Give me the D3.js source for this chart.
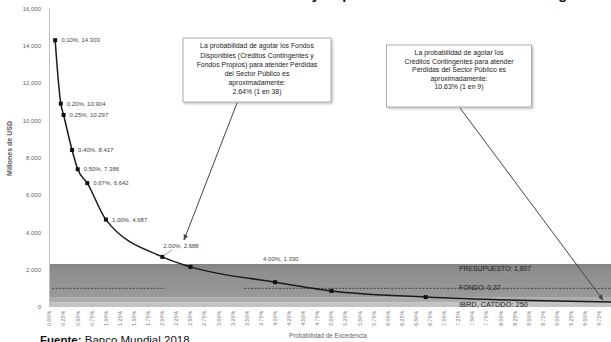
<!DOCTYPE html>
<html>
<head>
<meta charset="utf-8">
<script src="https://cdn.jsdelivr.net/npm/d3@7"></script>
<style>
  html, body { margin: 0; padding: 0; background: #fff; }
  svg { display: block; font-family: "Liberation Sans", Arial, sans-serif; }
</style>
</head>
<body>
<svg id="chart" width="611" height="342"></svg>
<script>
// Curva de excedencia de pérdidas (probabilidad anual en %, pérdida en millones de USD)
const probabilities = [0.10, 0.20, 0.25, 0.40, 0.50, 0.67, 1.00, 2.00, 2.50, 4.00, 5.00, 6.67, 10.00];
const losses        = [14303, 10904, 10297, 8417, 7386, 6642, 4687, 2688, 2150, 1330, 860, 530, 270];
const pointLabels   = ["0.10%, 14.303", "0.20%, 10.904", "0.25%, 10.297", "0.40%, 8.417",
                       "0.50%, 7.386", "0.67%, 6.642", "1.00%, 4.687", "2.00%, 2.688",
                       "", "4.00%, 1.330", "", "", ""];

// Capas de financiamiento apiladas (millones de USD)
const layerNames  = ["IBRD, CATDDO", "FONDO", "PRESUPUESTO"];
const layerValues = [250, 250, 1807];
const layerLabels = ["IBRD, CATDDO: 250", "FONDO: 0,37 . .", "PRESUPUESTO: 1,807"];
const referenceLevel = 1000;                      // línea discontinua
const referenceSpans = [[0.05, 2.05], [3.45, 10.2]];

// Ejes
const yTicks = [0, 2000, 4000, 6000, 8000, 10000, 12000, 14000, 16000];
const xTicks = d3.range(0, 41).map(i => i * 0.25);

// Anotaciones
const note1 = ["La probabilidad de agotar los Fondos",
               "Disponibles (Créditos Contingentes y",
               "Fondos Propios) para atender Pérdidas",
               "del Sector Público es",
               "aproximadamente:",
               "2.64% (1 en 38)"];
const note2 = ["La probabilidad de agotar los",
               "Créditos Contingentes para atender",
               "Pérdidas del Sector Público es",
               "aproximadamente:",
               "10.63% (1 en 9)"];

const svg = d3.select("#chart");
const x = d3.scaleLinear().domain([0, 10]).range([49.5, 613.5]);
const y = d3.scaleLinear().domain([0, 16000]).range([307, 8.6]);

const defs = svg.append("defs");
defs.append("marker").attr("id", "arrow")
  .attr("viewBox", "0 0 10 10").attr("refX", 9).attr("refY", 5)
  .attr("markerWidth", 6).attr("markerHeight", 6).attr("orient", "auto-start-reverse")
  .append("path").attr("d", "M0,1 L10,5 L0,9 z").attr("fill", "#444");
const grad = defs.append("linearGradient").attr("id", "bandTop")
  .attr("x1", 0).attr("x2", 0).attr("y1", 0).attr("y2", 1);
grad.append("stop").attr("offset", "0%").attr("stop-color", "#838383");
grad.append("stop").attr("offset", "25%").attr("stop-color", "#8f8f8f");
grad.append("stop").attr("offset", "100%").attr("stop-color", "#9a9a9a");
const shadow = defs.append("filter").attr("id", "shadow")
  .attr("x", "-10%").attr("y", "-10%").attr("width", "130%").attr("height", "130%");
shadow.append("feDropShadow").attr("dx", 1.5).attr("dy", 1.5)
  .attr("stdDeviation", 1).attr("flood-color", "#000").attr("flood-opacity", 0.25);

// Título (su parte superior queda fuera del lienzo)
svg.append("text")
  .attr("x", 576).attr("y", -1.2)
  .attr("text-anchor", "end")
  .attr("font-size", 14.5).attr("font-weight", "bold").attr("fill", "#111")
  .text("Curva de Excedencia de Pérdidas y Capas de Financiamiento del Riesgo");

// Bandas de financiamiento
const stacked = [];
let acc = 0;
layerValues.forEach((v, i) => { stacked.push({ name: layerNames[i], y0: acc, y1: acc + v, label: layerLabels[i] }); acc += v; });
const bandFill = ["#c3c3c3", "#acacac", "url(#bandTop)"];
svg.append("g").selectAll("rect").data(stacked).join("rect")
  .attr("x", x(0)).attr("width", 611 - x(0))
  .attr("y", d => y(d.y1)).attr("height", d => y(d.y0) - y(d.y1))
  .attr("fill", (d, i) => bandFill[i]);

// Línea discontinua de referencia
svg.append("g").selectAll("line").data(referenceSpans).join("line")
  .attr("x1", d => x(d[0])).attr("x2", d => x(d[1]))
  .attr("y1", y(referenceLevel)).attr("y2", y(referenceLevel))
  .attr("stroke", "#3a3a3a").attr("stroke-width", 0.9).attr("stroke-dasharray", "2,1.5");

// Etiquetas de las bandas
const bandLabelY = [y(150), y(referenceLevel) - 1, y(2307) + 4.5];
svg.append("g").selectAll("text").data(stacked).join("text")
  .attr("x", 459).attr("y", (d, i) => bandLabelY[i])
  .attr("dy", "0.35em")
  .attr("font-size", (d, i) => i === 0 ? 7.4 : 6.8)
  .attr("fill", "#222")
  .text(d => d.label);

// Eje Y
svg.append("line").attr("x1", x(0)).attr("x2", x(0))
  .attr("y1", y(16000)).attr("y2", y(0)).attr("stroke", "#bdbdbd").attr("stroke-width", 1);
svg.append("g").selectAll("text").data(yTicks).join("text")
  .attr("x", 41).attr("y", d => y(d)).attr("dy", "0.35em")
  .attr("text-anchor", "end").attr("font-size", 6).attr("fill", "#666")
  .text(d => d3.format(",")(d));
svg.append("text")
  .attr("transform", `translate(12,${y(8500)}) rotate(-90)`)
  .attr("text-anchor", "middle").attr("font-size", 7).attr("font-weight", "bold").attr("fill", "#555")
  .text("Millones de USD");

// Eje X (etiquetas verticales)
svg.append("g").selectAll("text").data(xTicks).join("text")
  .attr("transform", d => `translate(${x(d) + 1.8},311) rotate(-90)`)
  .attr("text-anchor", "end").attr("font-size", 5.2).attr("fill", "#777")
  .text(d => d3.format(".2f")(d) + "%");
svg.append("text")
  .attr("x", 328).attr("y", 338)
  .attr("text-anchor", "middle").attr("font-size", 6.3).attr("fill", "#666")
  .text("Probabilidad de Excedencia");

// Curva
const pts = probabilities.map((p, i) => ({ p, v: losses[i], label: pointLabels[i] }));
svg.append("path").datum(pts)
  .attr("fill", "none").attr("stroke", "#1a1a1a").attr("stroke-width", 1.5)
  .attr("d", d3.line().x(d => x(d.p)).y(d => y(d.v)).curve(d3.curveMonotoneX));
svg.append("g").selectAll("rect").data(pts).join("rect")
  .attr("x", d => x(d.p) - 2).attr("y", d => y(d.v) - 2)
  .attr("width", 4).attr("height", 4).attr("fill", "#111");

// Etiquetas de puntos
const labelShift = { "2.00": [1, -11, "start"], "4.00": [-12, -23, "start"] };
const lbl = svg.append("g");
pts.filter(d => d.label).forEach(d => {
  const key = d.p.toFixed(2);
  const s = labelShift[key] || [6, 0, "start"];
  lbl.append("text")
    .attr("x", x(d.p) + s[0]).attr("y", y(d.v) + s[1]).attr("dy", "0.35em")
    .attr("font-size", 6).attr("fill", "#444")
    .text(d.label);
  if (key === "2.00") {
    lbl.append("line")
      .attr("x1", x(d.p) + 10).attr("y1", y(d.v) - 7)
      .attr("x2", x(d.p) + 1).attr("y2", y(d.v) - 1)
      .attr("stroke", "#666").attr("stroke-width", 0.6);
  }
});

// Cuadros de anotación
function note(lines, cx, top, w, h, lineGap, size, arrowFrom, arrowTo) {
  const g = svg.append("g");
  g.append("rect").attr("x", cx - w / 2).attr("y", top).attr("width", w).attr("height", h)
    .attr("fill", "#fff").attr("stroke", "#9a9a9a").attr("stroke-width", 0.8)
    .attr("filter", "url(#shadow)");
  g.selectAll("text").data(lines).join("text")
    .attr("x", cx).attr("y", (d, i) => top + 8 + i * lineGap).attr("dy", "0.35em")
    .attr("text-anchor", "middle").attr("font-size", size).attr("fill", "#222")
    .text(d => d);
  svg.append("line")
    .attr("x1", arrowFrom[0]).attr("y1", arrowFrom[1])
    .attr("x2", arrowTo[0]).attr("y2", arrowTo[1])
    .attr("stroke", "#444").attr("stroke-width", 1)
    .attr("marker-end", "url(#arrow)");
}
note(note1, 257, 38, 148, 64, 9.1, 6.9, [237, 103], [184, 240]);
note(note2, 459, 45, 145, 62, 8.4, 6.9, [460, 108], [603, 300]);

// Fuente
const src = svg.append("text").attr("x", 40).attr("y", 343.5).attr("font-size", 11.5).attr("fill", "#111");
src.append("tspan").attr("font-weight", "bold").text("Fuente:");
src.append("tspan").text(" Banco Mundial 2018");
</script>
</body>
</html>
